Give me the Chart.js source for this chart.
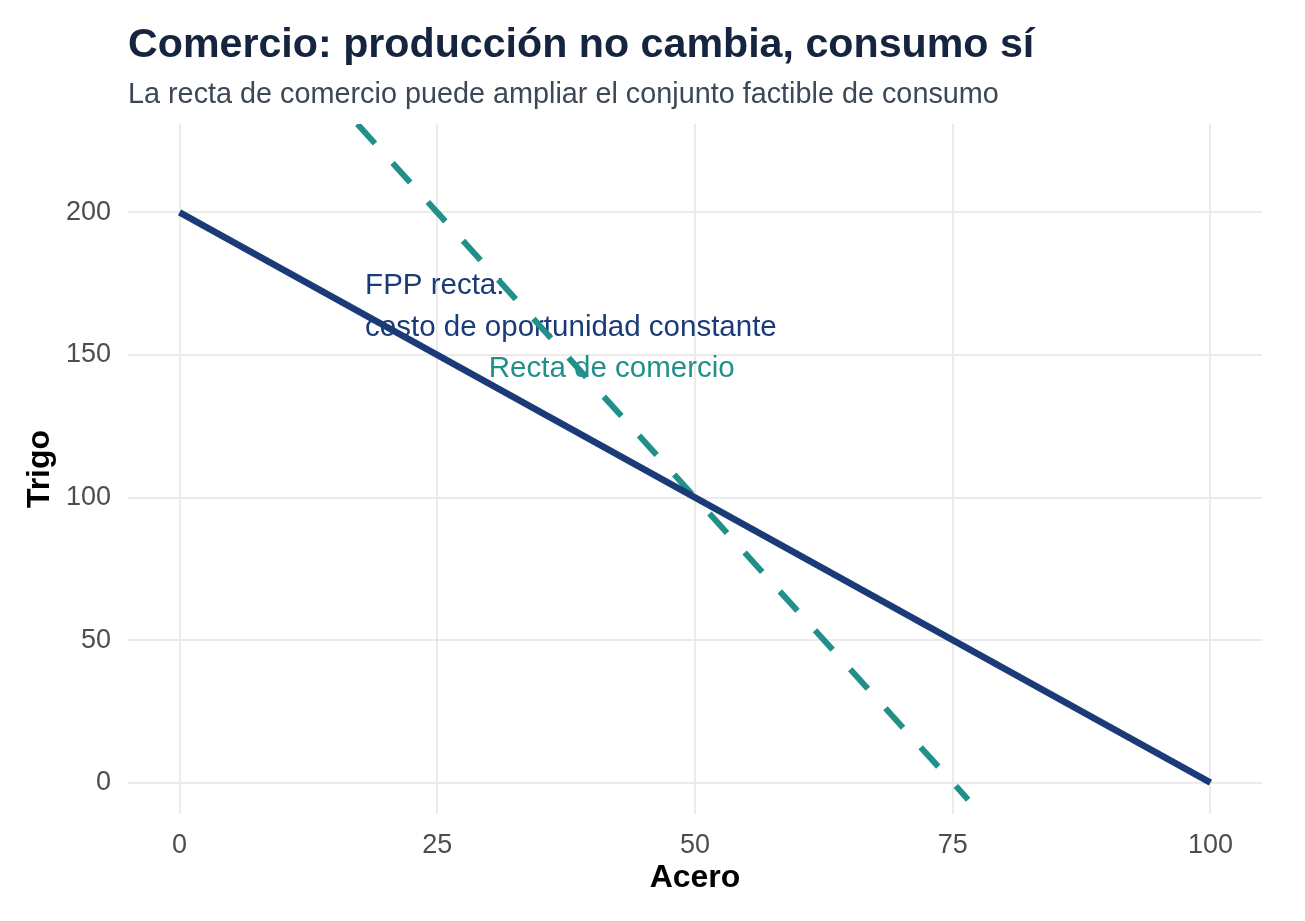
<!DOCTYPE html>
<html>
<head>
<meta charset="utf-8">
<script src="https://cdn.jsdelivr.net/npm/chart.js@4.4.1/dist/chart.umd.min.js"></script>
<style>
  html, body { margin: 0; padding: 0; background: #ffffff; }
  #wrap { width: 1305px; height: 921px; }
</style>
</head>
<body>
<div id="wrap"><canvas id="fppChart" width="1305" height="921"></canvas></div>
<script>
// datos
const aceroFpp = [0, 100];
const trigoFpp = [200, 0];
const aceroComercio = [15, 76.5];
const trigoComercio = [240, -6];
const xTicks = [0, 25, 50, 75, 100];
const yTicks = [0, 50, 100, 150, 200];
const xRango = [-5, 105];
const yRango = [-11, 231];

const AZUL = '#1b3a78';
const VERDE = '#22908a';
const FUENTE = '"Liberation Sans", Arial, Helvetica, sans-serif';

function puntos(xs, ys) {
  return xs.map((x, i) => ({ x: x, y: ys[i] }));
}

// textos: título, subtítulo, ejes y anotaciones
const textos = {
  id: 'textos',
  beforeDatasetsDraw(chart) {
    const ctx = chart.ctx;
    const x = chart.scales.x;
    const y = chart.scales.y;
    ctx.save();
    ctx.textAlign = 'left';
    ctx.textBaseline = 'middle';
    ctx.font = '29.5px ' + FUENTE;
    ctx.fillStyle = AZUL;
    const x0 = x.getPixelForValue(18);
    const yc = y.getPixelForValue(167);
    ctx.fillText('FPP recta:', x0, yc - 21);
    ctx.fillText('costo de oportunidad constante', x0, yc + 21);
    ctx.fillStyle = VERDE;
    ctx.fillText('Recta de comercio', x.getPixelForValue(30), y.getPixelForValue(145));
    ctx.restore();
  },
  afterDraw(chart) {
    const ctx = chart.ctx;
    const area = chart.chartArea;
    ctx.save();
    ctx.textAlign = 'left';
    ctx.textBaseline = 'alphabetic';
    ctx.fillStyle = '#15253f';
    ctx.font = 'bold 41.2px ' + FUENTE;
    ctx.fillText('Comercio: producción no cambia, consumo sí', area.left, 57);
    ctx.fillStyle = '#3c4757';
    ctx.font = '28.8px ' + FUENTE;
    ctx.fillText('La recta de comercio puede ampliar el conjunto factible de consumo', area.left, 103);

    ctx.fillStyle = '#000000';
    ctx.font = 'bold 32px ' + FUENTE;
    ctx.textAlign = 'center';
    ctx.textBaseline = 'middle';
    ctx.fillText('Acero', (area.left + area.right) / 2, 878);
    ctx.translate(40, (area.top + area.bottom) / 2);
    ctx.rotate(-Math.PI / 2);
    ctx.fillText('Trigo', 0, 0);
    ctx.restore();
  }
};

const canvas = document.getElementById('fppChart');
if (canvas) {
  new Chart(canvas.getContext('2d'), {
    type: 'scatter',
    data: {
      datasets: [
        {
          label: 'FPP',
          data: puntos(aceroFpp, trigoFpp),
          showLine: true,
          borderColor: AZUL,
          borderWidth: 6.8,
          borderCapStyle: 'butt',
          pointRadius: 0,
          clip: 0
        },
        {
          label: 'Recta de comercio',
          data: puntos(aceroComercio, trigoComercio),
          showLine: true,
          borderColor: VERDE,
          borderWidth: 6,
          borderDash: [26.25, 26.25],
          borderDashOffset: 17.9,
          borderCapStyle: 'butt',
          pointRadius: 0,
          clip: 0
        }
      ]
    },
    options: {
      responsive: false,
      animation: false,
      devicePixelRatio: 1,
      layout: { padding: { top: 124, right: 43, left: 0, bottom: 0 } },
      plugins: {
        legend: { display: false },
        tooltip: { enabled: false }
      },
      scales: {
        x: {
          type: 'linear',
          min: xRango[0],
          max: xRango[1],
          afterBuildTicks: s => { s.ticks = xTicks.map(v => ({ value: v })); },
          afterFit: s => { s.height = 107; },
          grid: { color: '#ebebeb', lineWidth: 2, drawTicks: false },
          border: { display: false },
          ticks: { padding: 15, color: '#4d4d4d', font: { family: FUENTE, size: 27 } }
        },
        y: {
          type: 'linear',
          min: yRango[0],
          max: yRango[1],
          afterBuildTicks: s => { s.ticks = yTicks.map(v => ({ value: v })); },
          afterFit: s => { s.width = 128; },
          grid: { color: '#ebebeb', lineWidth: 2, drawTicks: false },
          border: { display: false },
          ticks: { padding: 17, color: '#4d4d4d', font: { family: FUENTE, size: 27 } }
        }
      }
    },
    plugins: [textos]
  });
} else {
  console.warn('Canvas fppChart no encontrado');
}
</script>
</body>
</html>
